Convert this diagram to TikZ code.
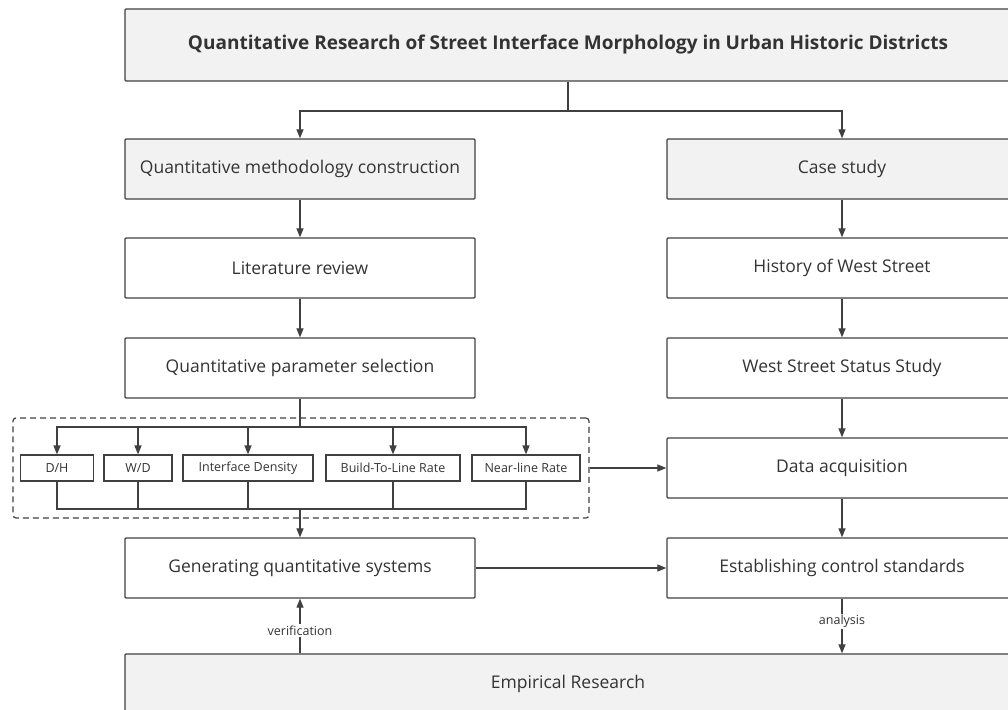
\documentclass[tikz,border=0pt]{standalone}
\usepackage{fontspec}
\setmainfont{Open Sans}
\usetikzlibrary{arrows.meta}
\definecolor{linegray}{HTML}{404040}
\definecolor{boxgray}{HTML}{F2F2F2}
\definecolor{textgray}{HTML}{333333}
\begin{document}
\begin{tikzpicture}[x=1pt,y=-1pt,
  box/.style={draw=linegray, line width=1.3pt, text=textgray, rounded corners=1pt, minimum width=350pt, minimum height=60pt, inner sep=0pt, font=\fontsize{17.5}{21}\selectfont},
  greybox/.style={box, fill=boxgray},
  smallbox/.style={draw=linegray, line width=1.2pt, text=textgray, minimum height=26pt, inner sep=0pt, font=\fontsize{12.5}{15}\selectfont},
  lnk/.style={draw=linegray, line width=1.2pt},
  arr/.style={lnk, -{Triangle[length=9pt,width=7pt]}},
  tag/.style={fill=white, text=textgray, inner sep=1.5pt, font=\fontsize{12.5}{15}\selectfont}]
\useasboundingbox (0,0) rectangle (1008,709);
\clip (0,0) rectangle (1008,709);
% boxes
\node[greybox, minimum width=886pt, minimum height=72pt, font=\fontsize{19}{23}\selectfont\bfseries] (title) at (568,45) {Quantitative Research of Street Interface Morphology in Urban Historic Districts};
\node[greybox] (qmc) at (300,169) {Quantitative methodology construction};
\node[greybox] (case) at (842,169) {Case study};
\node[box] (lit) at (300,268) {Literature review};
\node[box] (hist) at (842,268) {History of West Street};
\node[box] (param) at (300,368) {Quantitative parameter selection};
\node[box] (stat) at (842,368) {West Street Status Study};
\node[box] (data) at (842,468) {Data acquisition};
\node[box] (gen) at (300,568) {Generating quantitative systems};
\node[box] (est) at (842,568) {Establishing control standards};
\node[greybox, minimum width=886pt] (emp) at (568,684) {Empirical Research};
% parameters
\node[draw=linegray, dash pattern=on 6pt off 4pt, line width=1.2pt, rounded corners=3pt, minimum width=576pt, minimum height=100pt] (grp) at (301,468) {};
\node[smallbox, minimum width=73pt] (dh) at (57,468) {D/H};
\node[smallbox, minimum width=68pt] (wd) at (138,468) {W/D};
\node[smallbox, minimum width=130pt] (dens) at (248,468) {Interface Density};
\node[smallbox, minimum width=134pt] (btl) at (393,468) {Build-To-Line Rate};
\node[smallbox, minimum width=108pt] (near) at (526,468) {Near-line Rate};
\coordinate (split) at (568,111);
\coordinate (top) at (300,427);
\coordinate (bot) at (300,509);
% connectors
\path[lnk] (title.south) -- (split);
\path[arr] (split) -| (qmc.north);
\path[arr] (split) -| (case.north);
\path[arr] (qmc) -- (lit);
\path[arr] (lit) -- (param);
\path[arr] (case) -- (hist);
\path[arr] (hist) -- (stat);
\path[arr] (stat) -- (data);
\path[arr] (data) -- (est);
\path[lnk] (param.south) -- (top);
\foreach \p in {dh,wd,dens,btl,near} {
  \path[arr] (top) -| (\p.north);
  \path[lnk] (\p.south) |- (bot);
}
\path[arr] (bot) -- (gen.north);
\path[arr] (grp.east) -- (data.west);
\path[arr] (gen.east) -- (est.west);
\path[arr] (emp.north -| gen.south) -- node[tag, pos=0.42] {verification} (gen.south);
\path[arr] (est.south) -- node[tag, pos=0.42] {analysis} (emp.north -| est.south);
\end{tikzpicture}
\end{document}
